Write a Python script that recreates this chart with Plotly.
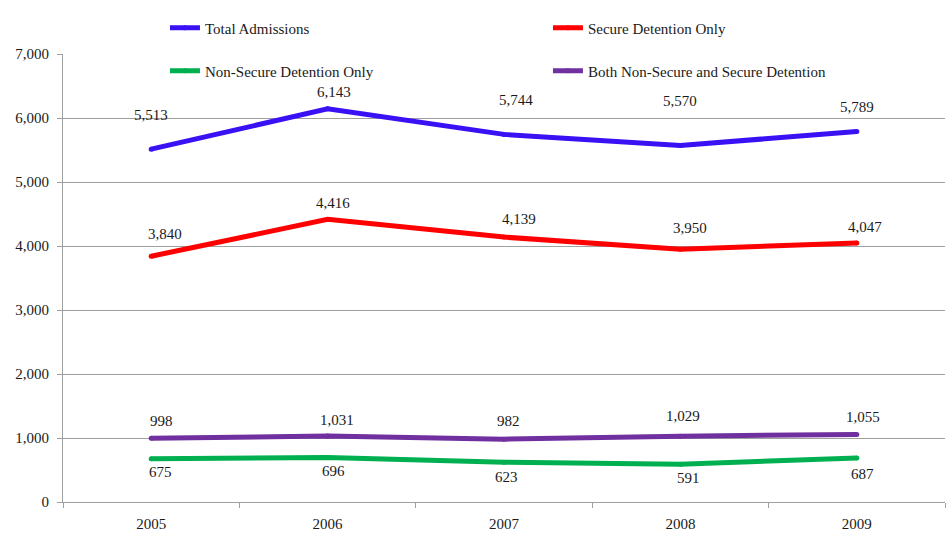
import plotly.graph_objects as go

years = ["2005", "2006", "2007", "2008", "2009"]
total_admissions = [5513, 6143, 5744, 5570, 5789]
secure_only = [3840, 4416, 4139, 3950, 4047]
non_secure_only = [675, 696, 623, 591, 687]
both_detention = [998, 1031, 982, 1029, 1055]

series_names = ["Total Admissions", "Secure Detention Only",
                "Non-Secure Detention Only", "Both Non-Secure and Secure Detention"]
series_values = [total_admissions, secure_only, non_secure_only, both_detention]
series_colors = ["#3A10F5", "#FF0000", "#00B050", "#7030A0"]
series_legend = ["legend", "legend", "legend2", "legend2"]

# label offsets (px) relative to each data point: (xshift, yshift)
label_offsets = [
    [(0, 34), (6, 17), (12, 34), (0, 45), (0, 25)],
    [(14, 22), (5, 16), (15, 18), (10, 21), (8, 16)],
    [(9, -13), (6, -14), (2, -15), (8, -14), (6, -16)],
    [(10, 17), (9, 16), (4, 18), (3, 20), (6, 17)],
]

FONT = "Liberation Serif, Times New Roman, serif"
FS = 15
TEXT = "#1a1a1a"
GRID = "#a0a0a0"

fig = go.Figure()
for name, vals, col, lg in zip(series_names, series_values, series_colors, series_legend):
    fig.add_trace(go.Scatter(x=years, y=vals, mode="lines+markers", name=name,
                             line=dict(color=col, width=5),
                             marker=dict(color=col, size=5, line=dict(width=0)),
                             legend=lg, hoverinfo="x+y"))

for vals, offs in zip(series_values, label_offsets):
    for idx, (v, (dx, dy)) in enumerate(zip(vals, offs)):
        fig.add_annotation(x=idx, y=v, text=f"{v:,}", showarrow=False,
                           xref="x", yref="y", xshift=dx, yshift=dy,
                           font=dict(family=FONT, size=FS, color=TEXT))

fig.update_layout(
    width=948, height=540,
    margin=dict(l=63, r=3, t=54, b=38),
    paper_bgcolor="white", plot_bgcolor="white",
    font=dict(family=FONT, size=FS, color=TEXT),
    showlegend=True,
    legend=dict(orientation="h", x=0.1156, xanchor="left", y=1.058, yanchor="middle",
                entrywidth=338, entrywidthmode="pixels", bgcolor="rgba(0,0,0,0)",
                font=dict(family=FONT, size=FS, color=TEXT)),
    legend2=dict(orientation="h", x=0.1156, xanchor="left", y=0.962, yanchor="middle",
                 entrywidth=338, entrywidthmode="pixels", bgcolor="rgba(0,0,0,0)",
                 font=dict(family=FONT, size=FS, color=TEXT)),
    xaxis=dict(type="category", showgrid=False, showline=True, linecolor=GRID,
               linewidth=1, ticks="outside", tickson="boundaries", ticklen=5,
               tickcolor=GRID, ticklabelstandoff=8, range=[-0.5, 4.5],
               tickfont=dict(family=FONT, size=FS, color=TEXT)),
    yaxis=dict(range=[0, 7000], dtick=1000, tickformat=",", showgrid=True,
               gridcolor=GRID, gridwidth=1, showline=True, linecolor=GRID,
               linewidth=1, ticks="outside", ticklen=5, tickcolor=GRID,
               ticklabelstandoff=5, zeroline=False,
               tickfont=dict(family=FONT, size=FS, color=TEXT)),
)

post = """
document.body.style.margin = '0';
document.body.style.overflow = 'hidden';
"""

fig.write_html("out.html", post_script=post, config={"displayModeBar": False})
